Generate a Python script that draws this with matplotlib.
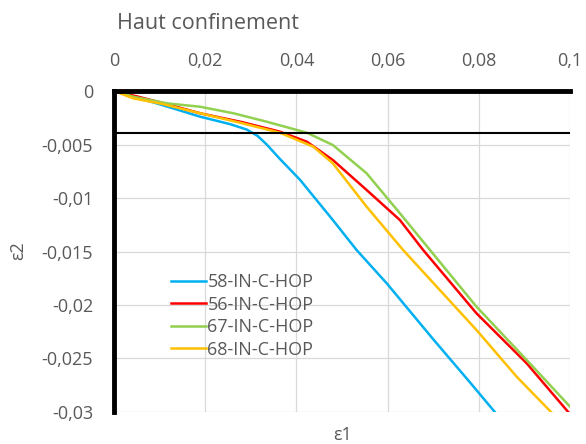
import matplotlib.pyplot as plt
import numpy as np

e1_58 = [0, 0.005, 0.0105, 0.0189, 0.0255, 0.0291, 0.0315, 0.0335, 0.0365, 0.0408, 0.048, 0.0532, 0.0598, 0.0700, 0.0780, 0.0839]
e2_58 = [0, -0.0006, -0.0013, -0.0024, -0.0031, -0.0036, -0.0042, -0.0050, -0.0064, -0.0083, -0.01206, -0.01486, -0.01797, -0.0232, -0.0272, -0.0302]

e1_56 = [0, 0.005, 0.0105, 0.0189, 0.0280, 0.0364, 0.0423, 0.048, 0.0554, 0.0627, 0.0678, 0.0795, 0.0905, 0.1]
e2_56 = [0, -0.0005, -0.0011, -0.00208, -0.0029, -0.0038, -0.00474, -0.00645, -0.00925, -0.01206, -0.01486, -0.02078, -0.02545, -0.0302]

e1_67 = [0, 0.0042, 0.0116, 0.0189, 0.0262, 0.0335, 0.0423, 0.048, 0.0554, 0.0627, 0.0693, 0.0795, 0.0905, 0.1]
e2_67 = [0, -0.00053, -0.00115, -0.00147, -0.00208, -0.00287, -0.0039, -0.00505, -0.00769, -0.01143, -0.01486, -0.02016, -0.02514, -0.0295]

e1_68 = [0, 0.0042, 0.0105, 0.0189, 0.0280, 0.0364, 0.0437, 0.048, 0.0554, 0.0634, 0.0795, 0.0883, 0.0963]
e2_68 = [0, -0.00068, -0.0012, -0.00208, -0.003, -0.0039, -0.0052, -0.00676, -0.01081, -0.01486, -0.02234, -0.0267, -0.0302]

labels = ["58-IN-C-HOP", "56-IN-C-HOP", "67-IN-C-HOP", "68-IN-C-HOP"]
colors = ["#00b0f0", "#ff0000", "#92d050", "#ffc000"]

xticks = [0, 0.02, 0.04, 0.06, 0.08, 0.1]
xticklabels = ["0", "0,02", "0,04", "0,06", "0,08", "0,1"]
yticks = [0, -0.005, -0.01, -0.015, -0.02, -0.025, -0.03]
yticklabels = ["0", "-0,005", "-0,01", "-0,015", "-0,02", "-0,025", "-0,03"]
limit_eps2 = -0.0039

plt.rcParams["font.family"] = ["Open Sans", "DejaVu Sans"]
grey = "#595959"

fig = plt.figure(figsize=(5.86, 4.44), dpi=100)
ax = fig.add_axes([0.1945, 0.0721, 0.7782, 0.7229])

series = [(e1_58, e2_58), (e1_56, e2_56), (e1_67, e2_67), (e1_68, e2_68)]
for (x, y), lab, c in zip(series, labels, colors):
    ax.plot(x, y, color=c, lw=1.8, label=lab)

ax.axhline(limit_eps2, color="black", lw=1.5)

ax.set_xlim(0, 0.1)
ax.set_ylim(-0.03, 0)
ax.set_xticks(xticks)
ax.set_xticklabels(xticklabels)
ax.set_yticks(yticks)
ax.set_yticklabels(yticklabels)
ax.xaxis.tick_top()
ax.tick_params(length=0, labelsize=13, labelcolor=grey)
ax.tick_params(axis="x", pad=15)
ax.tick_params(axis="y", pad=15)
ax.grid(True, color="#d9d9d9", lw=0.9)
ax.set_axisbelow(True)

for s in ["right", "bottom"]:
    ax.spines[s].set_visible(False)
for s in ["top", "left"]:
    ax.spines[s].set_linewidth(3.5)
    ax.spines[s].set_color("black")

fig.text(0.031, 0.435, "ε2", fontsize=13, color=grey, rotation=90, ha="center", va="center")
fig.text(0.584, 0.02, "ε1", fontsize=13, color=grey, ha="center", va="center")
fig.text(0.355, 0.948, "Haut confinement", fontsize=15.5, color=grey, ha="center", va="center")

ax.legend(loc="upper left", bbox_to_anchor=(0.11, 0.455), frameon=False,
          fontsize=13, labelcolor=grey, handlelength=1.9, handletextpad=0.1,
          labelspacing=0.25, borderaxespad=0)

fig.savefig("out.png", dpi=100)
